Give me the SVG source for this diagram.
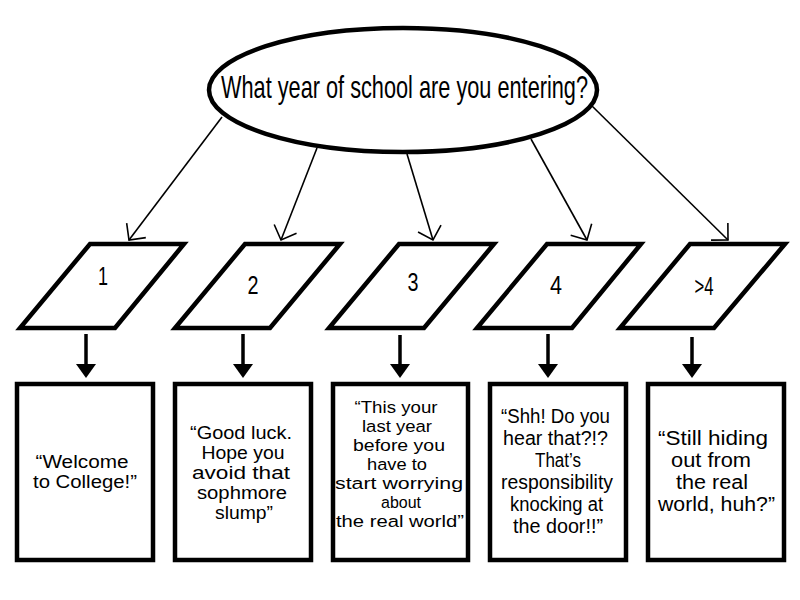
<svg xmlns="http://www.w3.org/2000/svg" width="800" height="600" viewBox="0 0 800 600">
<defs>
<style>
.bg{fill:#fff}
.shape{fill:#fff;stroke:#000;stroke-width:4.5;stroke-linejoin:miter}
.t{font-family:"Liberation Sans",Arial,sans-serif;fill:#000;text-anchor:middle}
.q{font-size:32px}
.n{font-size:26px}
.b1{font-size:17.5px}
.b2{font-size:17.5px}
.b3{font-size:16.8px}
.b4{font-size:19.4px}
.thin{stroke:#000;stroke-width:1.6;fill:none}
.thick{stroke:#000;stroke-width:3.5;fill:none}
.head{fill:#000;stroke:none}
</style>
<marker id="open" markerUnits="userSpaceOnUse" markerWidth="30" markerHeight="30" viewBox="-16 -15 20 30" refX="0" refY="0" orient="auto">
<path d="M-12,-12 L0,0 L-12,12" fill="none" stroke="#000" stroke-width="1.6"/>
</marker>
</defs>
<rect class="bg" x="0" y="0" width="800" height="600"/>

<g id="connectors">
<line class="thin" x1="222" y1="117" x2="129" y2="240" marker-end="url(#open)"/>
<line class="thin" x1="317" y1="148" x2="281" y2="240" marker-end="url(#open)"/>
<line class="thin" x1="407" y1="154" x2="433" y2="240" marker-end="url(#open)"/>
<line class="thin" x1="531" y1="139" x2="587" y2="240" marker-end="url(#open)"/>
<line class="thin" x1="591" y1="105" x2="728" y2="240" marker-end="url(#open)"/>
<line class="thick" x1="86" y1="334" x2="86" y2="366"/>
<polygon class="head" points="76,364 96,364 86,378"/>
<line class="thick" x1="243" y1="334" x2="243" y2="366"/>
<polygon class="head" points="233,364 253,364 243,378"/>
<line class="thick" x1="400" y1="335" x2="400" y2="366"/>
<polygon class="head" points="390,364 410,364 400,378"/>
<line class="thick" x1="548" y1="334" x2="548" y2="366"/>
<polygon class="head" points="538,364 558,364 548,378"/>
<line class="thick" x1="692" y1="337" x2="692" y2="366"/>
<polygon class="head" points="682,364 702,364 692,378"/>
</g>

<g id="question">
<ellipse class="shape" cx="403" cy="90" rx="194" ry="62" stroke-width="4"/>
<text class="t q" x="404.5" y="98" textLength="367" lengthAdjust="spacingAndGlyphs">What year of school are you entering?</text>
</g>

<g id="year1">
<polygon class="shape" points="90,244 184,244 115,328 20,328"/>
<text class="t n" x="103" y="285" textLength="10" lengthAdjust="spacingAndGlyphs">1</text>
</g>
<g id="year2">
<polygon class="shape" points="245,244 340,244 270,328 175,328"/>
<text class="t n" x="253" y="294" textLength="11" lengthAdjust="spacingAndGlyphs">2</text>
</g>
<g id="year3">
<polygon class="shape" points="399,244 494,244 424,328 329,328"/>
<text class="t n" x="413" y="291" textLength="11" lengthAdjust="spacingAndGlyphs">3</text>
</g>
<g id="year4">
<polygon class="shape" points="547,244 641,244 572,328 477,328"/>
<text class="t n" x="556" y="294" textLength="12" lengthAdjust="spacingAndGlyphs">4</text>
</g>
<g id="year5">
<polygon class="shape" points="690,244 785,244 714,328 620,328"/>
<text class="t n" x="704" y="295" textLength="19" lengthAdjust="spacingAndGlyphs">&gt;4</text>
</g>

<g id="msg1">
<rect class="shape" x="17" y="384" width="136" height="176"/>
<text class="t b1" x="82" y="468" textLength="93" lengthAdjust="spacingAndGlyphs">“Welcome</text>
<text class="t b1" x="85" y="488" textLength="104" lengthAdjust="spacingAndGlyphs">to College!”</text>
</g>
<g id="msg2">
<rect class="shape" x="175" y="384" width="136" height="176"/>
<text class="t b2" x="241" y="439" textLength="102" lengthAdjust="spacingAndGlyphs">“Good luck.</text>
<text class="t b2" x="243" y="459" textLength="83" lengthAdjust="spacingAndGlyphs">Hope you</text>
<text class="t b2" x="241" y="479" textLength="98" lengthAdjust="spacingAndGlyphs">avoid that</text>
<text class="t b2" x="242" y="499" textLength="90" lengthAdjust="spacingAndGlyphs">sophmore</text>
<text class="t b2" x="244" y="519" textLength="58" lengthAdjust="spacingAndGlyphs">slump”</text>
</g>
<g id="msg3">
<rect class="shape" x="333" y="384" width="135" height="176"/>
<text class="t b3" x="396" y="413" textLength="83" lengthAdjust="spacingAndGlyphs">“This your</text>
<text class="t b3" x="397" y="432" textLength="70" lengthAdjust="spacingAndGlyphs">last year</text>
<text class="t b3" x="399" y="451" textLength="92" lengthAdjust="spacingAndGlyphs">before you</text>
<text class="t b3" x="397" y="470" textLength="60" lengthAdjust="spacingAndGlyphs">have to</text>
<text class="t b3" x="399" y="489" textLength="128" lengthAdjust="spacingAndGlyphs">start worrying</text>
<text class="t b3" x="401" y="508" textLength="40" lengthAdjust="spacingAndGlyphs">about</text>
<text class="t b3" x="400" y="527" textLength="128" lengthAdjust="spacingAndGlyphs">the real world”</text>
</g>
<g id="msg4">
<rect class="shape" x="490" y="384" width="136" height="176"/>
<text class="t b4" x="555.5" y="423" textLength="109" lengthAdjust="spacingAndGlyphs">“Shh! Do you</text>
<text class="t b4" x="555.5" y="445" textLength="105" lengthAdjust="spacingAndGlyphs">hear that?!?</text>
<text class="t b4" x="558" y="467" textLength="46" lengthAdjust="spacingAndGlyphs">That’s</text>
<text class="t b4" x="557" y="489" textLength="112" lengthAdjust="spacingAndGlyphs">responsibility</text>
<text class="t b4" x="556.5" y="511" textLength="93" lengthAdjust="spacingAndGlyphs">knocking at</text>
<text class="t b4" x="558" y="533" textLength="90" lengthAdjust="spacingAndGlyphs">the door!!”</text>
</g>
<g id="msg5">
<rect class="shape" x="648" y="384" width="136" height="176"/>
<text class="t b4" x="713" y="445" textLength="110" lengthAdjust="spacingAndGlyphs">“Still hiding</text>
<text class="t b4" x="711" y="467" textLength="80" lengthAdjust="spacingAndGlyphs">out from</text>
<text class="t b4" x="712" y="489" textLength="72" lengthAdjust="spacingAndGlyphs">the real</text>
<text class="t b4" x="716.5" y="511" textLength="117" lengthAdjust="spacingAndGlyphs">world, huh?”</text>
</g>
</svg>
